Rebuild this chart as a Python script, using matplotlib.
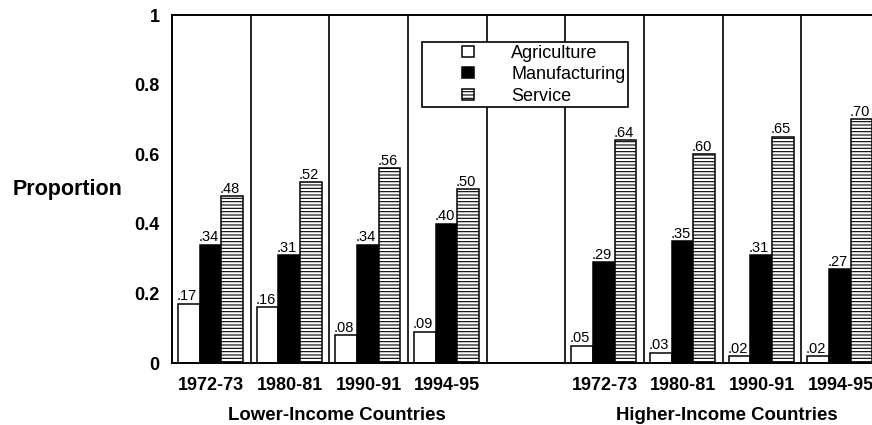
import matplotlib
matplotlib.use("Agg")
import matplotlib.pyplot as plt
from matplotlib.patches import Rectangle
from matplotlib.legend_handler import HandlerPatch
import matplotlib.transforms as mtransforms

plt.rcParams['font.family'] = ['Liberation Sans', 'DejaVu Sans']
plt.rcParams['hatch.linewidth'] = 0.8

# ---- data ----
periods = ["1972-73", "1980-81", "1990-91", "1994-95"]
groups = ["Lower-Income Countries", "Higher-Income Countries"]
series = ["Agriculture", "Manufacturing", "Service"]

lower_agri = [0.17, 0.16, 0.08, 0.09]
lower_manu = [0.34, 0.31, 0.34, 0.40]
lower_serv = [0.48, 0.52, 0.56, 0.50]

higher_agri = [0.05, 0.03, 0.02, 0.02]
higher_manu = [0.29, 0.35, 0.31, 0.27]
higher_serv = [0.64, 0.60, 0.65, 0.70]

yticks = [0, 0.2, 0.4, 0.6, 0.8, 1]
ytick_labels = ["0", "0.2", "0.4", "0.6", "0.8", "1"]

# ---- figure ----
W, H = 872, 425
fig = plt.figure(figsize=(W / 100, H / 100), dpi=100)
ax = fig.add_axes([172 / W, 1 - 363 / H, 708 / W, 348 / H])

# slot layout: 4 lower, 1 empty, 4 higher
slots_lower = [0, 1, 2, 3]
slots_higher = [5, 6, 7, 8]
bw = 0.276
off = 0.076

styles = [
    dict(facecolor="white", edgecolor="black", linewidth=1.1),
    dict(facecolor="black", edgecolor="black", linewidth=1.1),
    dict(facecolor="white", edgecolor="black", linewidth=1.1, hatch="-----"),
]

for slots, vals_list in [(slots_lower, [lower_agri, lower_manu, lower_serv]),
                         (slots_higher, [higher_agri, higher_manu, higher_serv])]:
    for k, vals in enumerate(vals_list):
        xs = [s + off + k * bw for s in slots]
        ax.bar(xs, vals, width=bw, align="edge", **styles[k], zorder=2)
        for x, v in zip(xs, vals):
            ax.annotate(f"{v:.2f}".lstrip("0"), xy=(x, v), xytext=(-1, 0.3),
                        textcoords="offset points", ha="left", va="bottom",
                        fontsize=10.5, zorder=3)

# dividers
for b in [1, 2, 3, 4, 5, 6, 7, 8]:
    ax.axvline(b, color="black", linewidth=1.2, zorder=1)

ax.set_xlim(0, 9)
ax.set_ylim(0, 1)
ax.spines["right"].set_visible(False)
for s in ["left", "top", "bottom"]:
    ax.spines[s].set_linewidth(1.4)

ax.set_yticks(yticks)
ax.set_yticklabels(ytick_labels, fontsize=13, fontweight="bold")
ax.set_xticks([s + 0.5 for s in slots_lower + slots_higher])
ax.set_xticklabels(periods + periods, fontsize=13, fontweight="bold")
ax.tick_params(axis="both", length=0)
ax.tick_params(axis="y", pad=9)
ax.tick_params(axis="x", pad=10)

ax.set_ylabel("Proportion", rotation=0, fontsize=15.5, fontweight="bold",
              ha="center", va="center")
ax.yaxis.set_label_coords(-0.147, 0.5)

trans = mtransforms.blended_transform_factory(ax.transData, ax.transAxes)
ax.text(2.1, -0.152, groups[0], transform=trans, ha="center", va="center",
        fontsize=13.4, fontweight="bold")
ax.text(7.05, -0.152, groups[1], transform=trans, ha="center", va="center",
        fontsize=13.4, fontweight="bold")

# legend with small square handles
def small_square(legend, orig_handle, xdescent, ydescent, width, height, fontsize):
    s = 8
    return Rectangle((width / 2 - s / 2 - xdescent, height / 2 - s / 2 - ydescent), s, s)

leg_handles = [Rectangle((0, 0), 1, 1, **styles[k]) for k in range(3)]
leg = ax.legend(leg_handles, series, loc="upper left",
                bbox_to_anchor=(422 / W, 1 - 42 / H), bbox_transform=fig.transFigure,
                borderaxespad=0, fontsize=13, frameon=True, fancybox=False,
                framealpha=1, edgecolor="black", borderpad=0.15,
                handlelength=4.8, handletextpad=0.0, labelspacing=0.25,
                handler_map={Rectangle: HandlerPatch(patch_func=small_square)})
leg.get_frame().set_linewidth(1.2)
leg.set_zorder(5)

fig.savefig("out.png", dpi=100)
